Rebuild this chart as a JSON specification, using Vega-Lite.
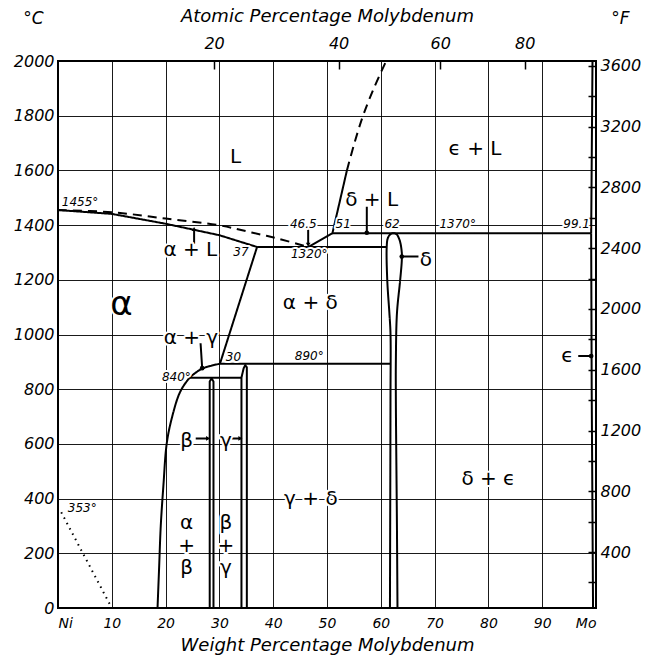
{
"$schema": "https://vega.github.io/schema/vega-lite/v6.json",
"width": 538,
"height": 547,
"autosize": "none",
"padding": {"left": 58, "top": 61, "right": 54, "bottom": 50},
"background": "white",
"config": {
  "view": {"stroke": "black", "strokeWidth": 2},
  "font": "DejaVu Sans",
  "axis": {"labelFont": "DejaVu Sans", "titleFont": "DejaVu Sans", "labelColor": "black", "titleColor": "black", "labelFontStyle": "italic", "titleFontStyle": "italic", "titleFontWeight": "normal", "domain": false, "gridColor": "black", "gridOpacity": 1, "gridWidth": 0.9, "tickColor": "black"}
},
"datasets": {
  "lines": [
    {"id": "solidus_a", "kind": "boundary", "i": 0, "w": 0, "T": 1455},
    {"id": "solidus_a", "kind": "boundary", "i": 1, "w": 10, "T": 1441},
    {"id": "solidus_a", "kind": "boundary", "i": 2, "w": 20, "T": 1405},
    {"id": "solidus_a", "kind": "boundary", "i": 3, "w": 30, "T": 1363},
    {"id": "solidus_a", "kind": "boundary", "i": 4, "w": 37, "T": 1320},
    {"id": "liquidus_a", "kind": "uncertain", "i": 0, "w": 0, "T": 1455},
    {"id": "liquidus_a", "kind": "uncertain", "i": 1, "w": 10, "T": 1447},
    {"id": "liquidus_a", "kind": "uncertain", "i": 2, "w": 20, "T": 1424},
    {"id": "liquidus_a", "kind": "uncertain", "i": 3, "w": 30, "T": 1399},
    {"id": "liquidus_a", "kind": "uncertain", "i": 4, "w": 36, "T": 1373},
    {"id": "liquidus_a", "kind": "uncertain", "i": 5, "w": 41, "T": 1350},
    {"id": "liquidus_a", "kind": "uncertain", "i": 6, "w": 46.5, "T": 1320},
    {"id": "eutectic", "kind": "boundary", "i": 0, "w": 37, "T": 1320},
    {"id": "eutectic", "kind": "boundary", "i": 1, "w": 61.1, "T": 1320},
    {"id": "liq_d", "kind": "boundary", "i": 0, "w": 46.5, "T": 1320},
    {"id": "liq_d", "kind": "boundary", "i": 1, "w": 51, "T": 1370},
    {"id": "liq_d", "kind": "boundary", "i": 2, "w": 52.3, "T": 1480},
    {"id": "liq_d", "kind": "boundary", "i": 3, "w": 53.7, "T": 1600},
    {"id": "liq_d_dash", "kind": "uncertain", "i": 0, "w": 53.7, "T": 1600},
    {"id": "liq_d_dash", "kind": "uncertain", "i": 1, "w": 55.1, "T": 1700},
    {"id": "liq_d_dash", "kind": "uncertain", "i": 2, "w": 56.7, "T": 1800},
    {"id": "liq_d_dash", "kind": "uncertain", "i": 3, "w": 58.7, "T": 1900},
    {"id": "liq_d_dash", "kind": "uncertain", "i": 4, "w": 61, "T": 2000},
    {"id": "peritectic", "kind": "boundary", "i": 0, "w": 51, "T": 1370},
    {"id": "peritectic", "kind": "boundary", "i": 1, "w": 99.1, "T": 1370},
    {"id": "delta", "kind": "boundary", "i": 0, "w": 61.7, "T": 0},
    {"id": "delta", "kind": "boundary", "i": 1, "w": 61.8, "T": 760},
    {"id": "delta", "kind": "boundary", "i": 2, "w": 61.8, "T": 1005},
    {"id": "delta", "kind": "boundary", "i": 3, "w": 61.6, "T": 1077},
    {"id": "delta", "kind": "boundary", "i": 4, "w": 61.2, "T": 1199},
    {"id": "delta", "kind": "boundary", "i": 5, "w": 61.1, "T": 1321},
    {"id": "delta", "kind": "boundary", "i": 6, "w": 61.3, "T": 1352},
    {"id": "delta", "kind": "boundary", "i": 7, "w": 61.8, "T": 1367},
    {"id": "delta", "kind": "boundary", "i": 8, "w": 62.3, "T": 1370},
    {"id": "delta", "kind": "boundary", "i": 9, "w": 62.9, "T": 1367},
    {"id": "delta", "kind": "boundary", "i": 10, "w": 63.5, "T": 1345},
    {"id": "delta", "kind": "boundary", "i": 11, "w": 63.9, "T": 1300},
    {"id": "delta", "kind": "boundary", "i": 12, "w": 63.9, "T": 1270},
    {"id": "delta", "kind": "boundary", "i": 13, "w": 63.6, "T": 1199},
    {"id": "delta", "kind": "boundary", "i": 14, "w": 63.0, "T": 1077},
    {"id": "delta", "kind": "boundary", "i": 15, "w": 62.8, "T": 900},
    {"id": "delta", "kind": "boundary", "i": 16, "w": 62.8, "T": 760},
    {"id": "delta", "kind": "boundary", "i": 17, "w": 63.0, "T": 300},
    {"id": "delta", "kind": "boundary", "i": 18, "w": 63.1, "T": 0},
    {"id": "a_ad", "kind": "boundary", "i": 0, "w": 37, "T": 1320},
    {"id": "a_ad", "kind": "boundary", "i": 1, "w": 30.1, "T": 893},
    {"id": "t890", "kind": "boundary", "i": 0, "w": 30.1, "T": 893},
    {"id": "t890", "kind": "boundary", "i": 1, "w": 61.8, "T": 893},
    {"id": "a_curve", "kind": "boundary", "i": 0, "w": 30.1, "T": 893},
    {"id": "a_curve", "kind": "boundary", "i": 1, "w": 28.5, "T": 886},
    {"id": "a_curve", "kind": "boundary", "i": 2, "w": 26.9, "T": 876},
    {"id": "a_curve", "kind": "boundary", "i": 3, "w": 25.5, "T": 859},
    {"id": "a_curve", "kind": "boundary", "i": 4, "w": 24.4, "T": 840},
    {"id": "a_curve", "kind": "boundary", "i": 5, "w": 22.7, "T": 790},
    {"id": "a_curve", "kind": "boundary", "i": 6, "w": 21.1, "T": 690},
    {"id": "a_curve", "kind": "boundary", "i": 7, "w": 20.2, "T": 600},
    {"id": "a_curve", "kind": "boundary", "i": 8, "w": 19.6, "T": 450},
    {"id": "a_curve", "kind": "boundary", "i": 9, "w": 19.1, "T": 300},
    {"id": "a_curve", "kind": "boundary", "i": 10, "w": 18.8, "T": 150},
    {"id": "a_curve", "kind": "boundary", "i": 11, "w": 18.5, "T": 0},
    {"id": "t840", "kind": "boundary", "i": 0, "w": 24.4, "T": 842},
    {"id": "t840", "kind": "boundary", "i": 1, "w": 34.1, "T": 842},
    {"id": "beta", "kind": "boundary", "i": 0, "w": 28.2, "T": 0},
    {"id": "beta", "kind": "boundary", "i": 1, "w": 28.2, "T": 828},
    {"id": "beta", "kind": "boundary", "i": 2, "w": 28.55, "T": 840},
    {"id": "beta", "kind": "boundary", "i": 3, "w": 28.9, "T": 828},
    {"id": "beta", "kind": "boundary", "i": 4, "w": 28.9, "T": 0},
    {"id": "gamma", "kind": "boundary", "i": 0, "w": 34.1, "T": 0},
    {"id": "gamma", "kind": "boundary", "i": 1, "w": 34.1, "T": 842},
    {"id": "gamma", "kind": "boundary", "i": 2, "w": 34.5, "T": 876},
    {"id": "gamma", "kind": "boundary", "i": 3, "w": 34.8, "T": 888},
    {"id": "gamma", "kind": "boundary", "i": 4, "w": 35.1, "T": 880},
    {"id": "gamma", "kind": "boundary", "i": 5, "w": 35.1, "T": 0},
    {"id": "eps_solidus", "kind": "boundary", "i": 0, "w": 99.35, "T": 2000},
    {"id": "eps_solidus", "kind": "boundary", "i": 1, "w": 99.1, "T": 1370},
    {"id": "eps_solvus", "kind": "boundary", "i": 0, "w": 99.1, "T": 1370},
    {"id": "eps_solvus", "kind": "boundary", "i": 1, "w": 99.2, "T": 800},
    {"id": "eps_solvus", "kind": "boundary", "i": 2, "w": 99.45, "T": 0},
    {"id": "magnetic", "kind": "magnetic", "i": 0, "w": 0.6, "T": 350},
    {"id": "magnetic", "kind": "magnetic", "i": 1, "w": 10, "T": 0},
    {"id": "p_aL", "kind": "pointer", "i": 0, "w": 25.3, "T": 1332},
    {"id": "p_aL", "kind": "pointer", "i": 1, "w": 25.3, "T": 1386},
    {"id": "p_465", "kind": "pointer", "i": 0, "w": 46.5, "T": 1385},
    {"id": "p_465", "kind": "pointer", "i": 1, "w": 46.5, "T": 1330},
    {"id": "p_dL", "kind": "pointer", "i": 0, "w": 57.4, "T": 1467},
    {"id": "p_dL", "kind": "pointer", "i": 1, "w": 57.4, "T": 1372},
    {"id": "p_ag", "kind": "pointer", "i": 0, "w": 26.5, "T": 968},
    {"id": "p_ag", "kind": "pointer", "i": 1, "w": 26.8, "T": 877},
    {"id": "p_d", "kind": "pointer", "i": 0, "w": 67, "T": 1285},
    {"id": "p_d", "kind": "pointer", "i": 1, "w": 63.9, "T": 1285},
    {"id": "p_e", "kind": "pointer", "i": 0, "w": 96.7, "T": 921},
    {"id": "p_e", "kind": "pointer", "i": 1, "w": 99.1, "T": 921},
    {"id": "p_b", "kind": "pointer", "i": 0, "w": 25.6, "T": 620},
    {"id": "p_b", "kind": "pointer", "i": 1, "w": 27.9, "T": 620},
    {"id": "p_g", "kind": "pointer", "i": 0, "w": 32.3, "T": 620},
    {"id": "p_g", "kind": "pointer", "i": 1, "w": 33.9, "T": 620}
  ],
  "tips": [
    {"w": 25.3, "T": 1386, "tip": "up"},
    {"w": 46.5, "T": 1328, "tip": "down"},
    {"w": 57.4, "T": 1372, "tip": "dot"},
    {"w": 26.8, "T": 877, "tip": "dot"},
    {"w": 63.9, "T": 1285, "tip": "dot"},
    {"w": 99.1, "T": 921, "tip": "dot"},
    {"w": 27.9, "T": 620, "tip": "right"},
    {"w": 33.9, "T": 620, "tip": "right"}
  ],
  "labels": [
    {"t": "L", "w": 33, "T": 1650, "kind": "phase"},
    {"t": "ϵ + L", "w": 77.5, "T": 1680, "kind": "phase"},
    {"t": "δ + L", "w": 58.3, "T": 1492, "kind": "phase"},
    {"t": "α + L", "w": 24.6, "T": 1309, "kind": "phase"},
    {"t": "α", "w": 11.8, "T": 1108, "kind": "major"},
    {"t": "α + δ", "w": 46.9, "T": 1114, "kind": "phase"},
    {"t": "α + γ", "w": 24.7, "T": 986, "kind": "phase"},
    {"t": "δ", "w": 68.4, "T": 1272, "kind": "phase"},
    {"t": "ϵ", "w": 94.7, "T": 921, "kind": "phase"},
    {"t": "δ + ϵ", "w": 80, "T": 470, "kind": "phase"},
    {"t": "β", "w": 23.9, "T": 612, "kind": "phase"},
    {"t": "γ", "w": 31.2, "T": 612, "kind": "phase"},
    {"t": "γ + δ", "w": 47, "T": 400, "kind": "phase"},
    {"t": "α", "w": 23.9, "T": 310, "kind": "phase"},
    {"t": "+", "w": 23.9, "T": 226, "kind": "phase"},
    {"t": "β", "w": 23.9, "T": 145, "kind": "phase"},
    {"t": "β", "w": 31.2, "T": 310, "kind": "phase"},
    {"t": "+", "w": 31.2, "T": 226, "kind": "phase"},
    {"t": "γ", "w": 31.2, "T": 145, "kind": "phase"}
  ],
  "values": [
    {"t": "1455°", "w": 4.1, "T": 1486},
    {"t": "46.5", "w": 45.6, "T": 1403},
    {"t": "51", "w": 53.0, "T": 1404},
    {"t": "62", "w": 62.1, "T": 1404},
    {"t": "1370°", "w": 74.3, "T": 1404},
    {"t": "99.1", "w": 96.4, "T": 1404},
    {"t": "1320°", "w": 46.7, "T": 1294},
    {"t": "37", "w": 34.0, "T": 1303},
    {"t": "30", "w": 32.6, "T": 919},
    {"t": "890°", "w": 46.7, "T": 921},
    {"t": "840°", "w": 22.0, "T": 845},
    {"t": "353°", "w": 4.5, "T": 366}
  ],
  "axis2": [{"w": 0, "F": 32}]
},
"layer": [
  {"layer": [
    {
      "data": {"name": "lines"},
      "transform": [{"filter": "indexof(['delta','a_curve','liquidus_a','liq_d_dash'], datum.id) < 0"}],
      "mark": {"type": "line", "color": "black", "strokeJoin": "round"},
      "encoding": {
        "x": {"field": "w", "type": "quantitative", "scale": {"domain": [0, 100], "nice": false, "zero": false},
          "axis": {"orient": "bottom", "values": [0, 10, 20, 30, 40, 50, 60, 70, 80, 90, 100], "grid": true, "ticks": false,
            "labelExpr": "datum.value == 0 ? 'Ni' : datum.value == 100 ? 'Mo' : datum.label",
            "labelAlign": {"condition": [{"test": "datum.value == 0", "value": "left"}, {"test": "datum.value == 100", "value": "right"}], "value": "center"},
            "labelFontSize": 14, "labelPadding": 8, "labelFlush": false,
            "title": "Weight Percentage Molybdenum", "titleFontSize": 18, "titlePadding": 6}},
        "y": {"field": "T", "type": "quantitative", "scale": {"domain": [0, 2000], "nice": false},
          "axis": {"orient": "left", "values": [0, 200, 400, 600, 800, 1000, 1200, 1400, 1600, 1800, 2000], "format": "d", "grid": true, "ticks": false,
            "labelFontSize": 16, "labelPadding": 4, "labelFlush": false,
            "title": "°C", "titleAngle": 0, "titleX": -25, "titleY": -43, "titleAlign": "center", "titleBaseline": "middle", "titleFontSize": 17}},
        "detail": {"field": "id"},
        "order": {"field": "i", "type": "quantitative"},
        "strokeDash": {"field": "kind", "type": "nominal", "scale": {"domain": ["boundary", "uncertain", "magnetic", "pointer"], "range": [[1, 0], [9, 6], [1.5, 4.5], [1, 0]]}, "legend": null},
        "strokeWidth": {"field": "kind", "type": "nominal", "scale": {"domain": ["boundary", "uncertain", "magnetic", "pointer"], "range": [2, 2, 2, 1]}, "legend": null}
      }
    },
    {
      "data": {"name": "lines"},
      "transform": [{"filter": "indexof(['delta','a_curve','liquidus_a','liq_d_dash'], datum.id) >= 0"}],
      "mark": {"type": "line", "color": "black", "strokeJoin": "round", "interpolate": "catmull-rom"},
      "encoding": {
        "x": {"field": "w", "type": "quantitative"},
        "y": {"field": "T", "type": "quantitative"},
        "detail": {"field": "id"},
        "order": {"field": "i", "type": "quantitative"},
        "strokeDash": {"field": "kind", "type": "nominal", "legend": null},
        "strokeWidth": {"field": "kind", "type": "nominal", "legend": null}
      }
    },
    {
      "data": {"name": "tips"},
      "mark": {"type": "point", "filled": true, "color": "black", "opacity": 1, "size": 22},
      "encoding": {
        "x": {"field": "w", "type": "quantitative"},
        "y": {"field": "T", "type": "quantitative"},
        "shape": {"field": "tip", "type": "nominal", "scale": {"domain": ["dot", "up", "down", "right"], "range": ["circle", "triangle-up", "triangle-down", "triangle-right"]}, "legend": null}
      }
    },
    {
      "data": {"name": "labels"},
      "mark": {"type": "text", "font": "DejaVu Sans", "align": "center", "baseline": "middle", "stroke": "white", "strokeWidth": 4, "strokeJoin": "round", "fill": "white"},
      "encoding": {
        "x": {"field": "w", "type": "quantitative"},
        "y": {"field": "T", "type": "quantitative"},
        "text": {"field": "t"},
        "size": {"field": "kind", "type": "nominal", "scale": {"domain": ["phase", "major"], "range": [20, 34]}, "legend": null}
      }
    },
    {
      "data": {"name": "labels"},
      "mark": {"type": "text", "font": "DejaVu Sans", "align": "center", "baseline": "middle", "color": "black"},
      "encoding": {
        "x": {"field": "w", "type": "quantitative"},
        "y": {"field": "T", "type": "quantitative"},
        "text": {"field": "t"},
        "size": {"field": "kind", "type": "nominal", "legend": null}
      }
    },
    {
      "data": {"name": "values"},
      "mark": {"type": "text", "font": "DejaVu Sans", "fontStyle": "italic", "fontSize": 12, "align": "center", "baseline": "middle", "stroke": "white", "strokeWidth": 4, "strokeJoin": "round", "fill": "white"},
      "encoding": {
        "x": {"field": "w", "type": "quantitative"},
        "y": {"field": "T", "type": "quantitative"},
        "text": {"field": "t"}
      }
    },
    {
      "data": {"name": "values"},
      "mark": {"type": "text", "font": "DejaVu Sans", "fontStyle": "italic", "fontSize": 12, "align": "center", "baseline": "middle", "color": "black"},
      "encoding": {
        "x": {"field": "w", "type": "quantitative"},
        "y": {"field": "T", "type": "quantitative"},
        "text": {"field": "t"}
      }
    }
  ]},
  {
    "data": {"name": "axis2"},
    "mark": {"type": "point", "opacity": 0},
    "encoding": {
      "x": {"field": "w", "type": "quantitative", "scale": {"domain": [0, 100], "nice": false, "zero": false},
        "axis": {"orient": "top", "values": [29.01, 52.15, 71.03, 86.74], "grid": false, "ticks": true, "tickSize": -8, "tickWidth": 1.5,
          "labelExpr": "datum.value < 40 ? '20' : datum.value < 60 ? '40' : datum.value < 80 ? '60' : '80'",
          "labelFontSize": 16, "labelPadding": 18, "labelFlush": false,
          "title": "Atomic Percentage Molybdenum", "titleFontSize": 18, "titlePadding": 10}},
      "y": {"field": "F", "type": "quantitative", "scale": {"domain": [32, 3632], "nice": false, "zero": false},
        "axis": {"orient": "right", "values": [200, 400, 600, 800, 1000, 1200, 1400, 1600, 1800, 2000, 2200, 2400, 2600, 2800, 3000, 3200, 3400, 3600], "format": "d",
          "labelExpr": "datum.value % 400 === 0 ? datum.label : ''",
          "grid": false, "ticks": true, "tickSize": -8, "tickWidth": 1.5, "labelPadding": 12, "labelFontSize": 16, "labelFlush": false,
          "title": "°F", "titleAngle": 0, "titleX": 24, "titleY": -43, "titleAlign": "center", "titleBaseline": "middle", "titleFontSize": 17}}
    }
  }
],
"resolve": {"scale": {"y": "independent"}, "axis": {"x": "independent", "y": "independent"}}
}
